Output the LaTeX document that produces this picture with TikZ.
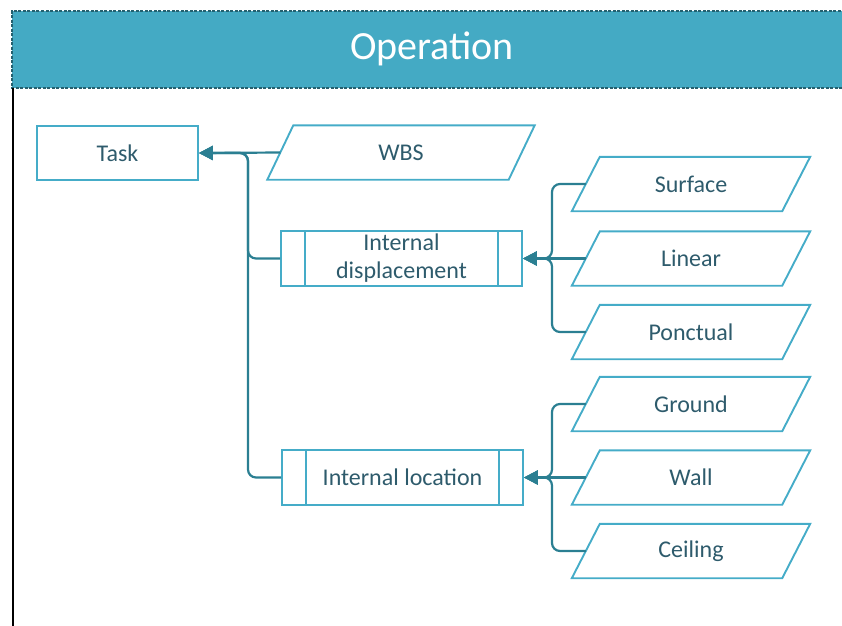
\documentclass[tikz,border=0pt]{standalone}
\usepackage{fontspec}
\setmainfont{Carlito}
\usetikzlibrary{arrows.meta}
\definecolor{headfill}{HTML}{44AAC4}
\definecolor{headedge}{HTML}{24606F}
\definecolor{boxedge}{HTML}{45ACC8}
\definecolor{linkcol}{HTML}{2B7F92}
\definecolor{txtcol}{HTML}{2E5B6C}
\tikzset{
  bodytext/.style={text=txtcol, font=\fontsize{24}{28}\selectfont, align=center, inner sep=0pt},
  plainbox/.style={bodytext, draw=boxedge, line width=1.9pt, minimum width=161pt, minimum height=54pt},
  subbox/.style={bodytext, draw=boxedge, line width=1.9pt, minimum width=241pt, minimum height=55pt},
  parabox/.style={bodytext, minimum height=54pt},
  paraedge/.style={draw=boxedge, line width=1.9pt, line join=miter},
  link/.style={draw=linkcol, line width=2.2pt, rounded corners=8pt, -{Triangle[length=14pt,width=14pt]}},
}
\begin{document}
\begin{tikzpicture}[x=1pt,y=-1pt]
\useasboundingbox (0,0) rectangle (842,625);
% header band
\fill[headfill] (12,11) rectangle (845,88);
\draw[headedge, line width=1.2pt, dash pattern=on 3pt off 1.5pt] (845,11) -- (12,11) -- (12,88) -- (845,88);
\node[text=white, font=\fontsize{40}{44}\selectfont, inner sep=0pt] (title) at (432,49) {Operation};
% frame left edge
\draw[black, line width=1.6pt] (13,88) -- (13,626);

% nodes
\node[plainbox] (task) at (117.5,153) {Task};
\node[parabox, minimum width=241pt] (wbs) at (401,152.5) {WBS};
\node[subbox] (idisp) at (401.5,258.5) {Internal\\displacement};
\node[subbox] (iloc) at (402.5,477.5) {Internal location};
\node[parabox, minimum width=210pt] (surf) at (691,184) {Surface};
\node[parabox, minimum width=210pt] (lin) at (691,258.5) {Linear};
\node[parabox, minimum width=210pt] (ponc) at (691,332) {Ponctual};
\node[parabox, minimum width=210pt] (grnd) at (691,404) {Ground};
\node[parabox, minimum width=210pt] (wall) at (691,477.5) {Wall};
\node[parabox, minimum width=210pt] (ceil) at (691,551) {Ceiling};

% parallelogram outlines
\draw[paraedge] ([xshift=13pt]wbs.north west) -- ([xshift=13pt]wbs.north east) -- ([xshift=-13pt]wbs.south east) -- ([xshift=-13pt]wbs.south west) -- cycle;
\foreach \n in {surf,lin,ponc,grnd,wall,ceil}
  \draw[paraedge] ([xshift=14pt]\n.north west) -- ([xshift=14pt]\n.north east) -- ([xshift=-14pt]\n.south east) -- ([xshift=-14pt]\n.south west) -- cycle;
% subprocess inner bars
\foreach \n in {idisp,iloc}{
  \draw[boxedge, line width=1.6pt] ([xshift=25pt]\n.north west) -- ([xshift=25pt]\n.south west);
  \draw[boxedge, line width=1.6pt] ([xshift=-25pt]\n.north east) -- ([xshift=-25pt]\n.south east);
}

% junction columns
\coordinate (jl) at (248,0);
\coordinate (jr) at (552,0);

% connectors
\draw[link] (wbs.west) -- (task.east);
\draw[link] (idisp.west) -- (idisp.west -| jl) -- (task.east -| jl) -- (task.east);
\draw[link] (iloc.west) -- (iloc.west -| jl) -- (task.east -| jl) -- (task.east);

\draw[link] (lin.west) -- (idisp.east);
\draw[link] (surf.west) -- (surf.west -| jr) -- (idisp.east -| jr) -- (idisp.east);
\draw[link] (ponc.west) -- (ponc.west -| jr) -- (idisp.east -| jr) -- (idisp.east);

\draw[link] (wall.west) -- (iloc.east);
\draw[link] (grnd.west) -- (grnd.west -| jr) -- (iloc.east -| jr) -- (iloc.east);
\draw[link] (ceil.west) -- (ceil.west -| jr) -- (iloc.east -| jr) -- (iloc.east);
\end{tikzpicture}
\end{document}
